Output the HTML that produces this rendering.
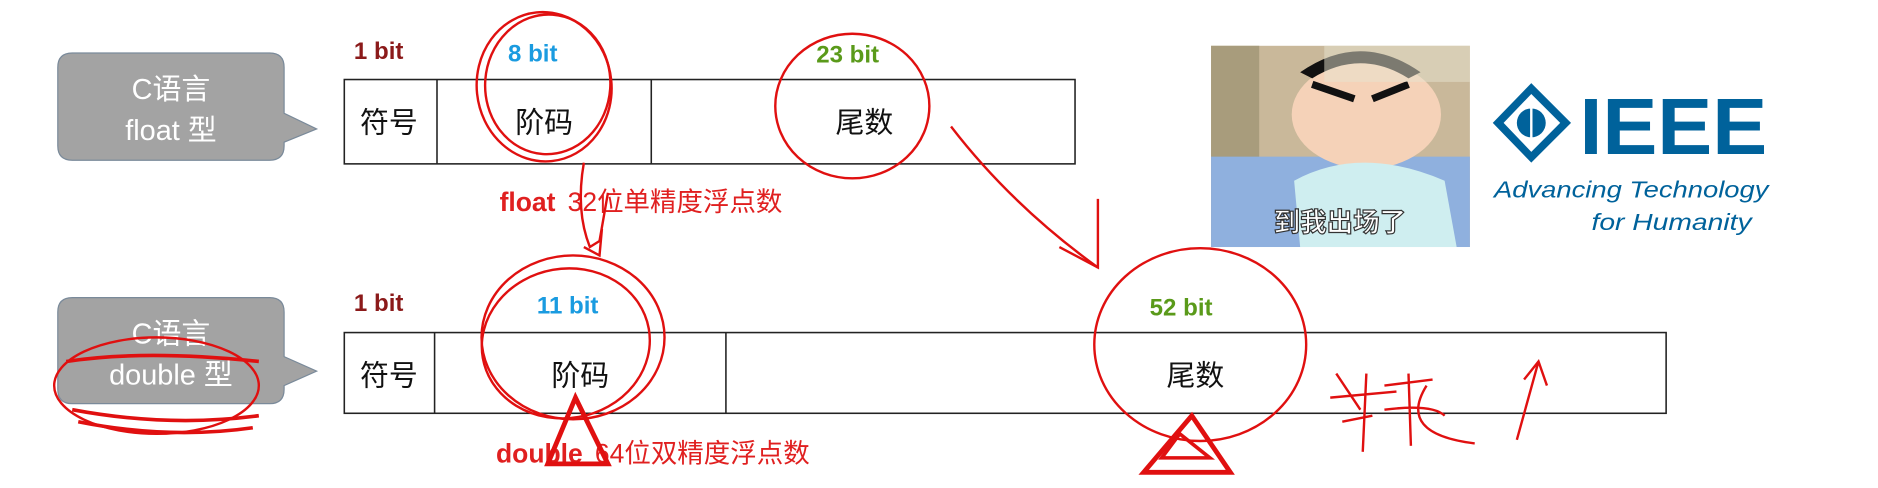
<!DOCTYPE html>
<html><head><meta charset="utf-8"><style>
html,body{margin:0;padding:0;background:#fff;width:1878px;height:488px;overflow:hidden}
svg{display:block}
text{font-family:"Liberation Sans","Noto Sans CJK SC",sans-serif}
</style></head><body>
<svg width="1878" height="488" viewBox="0 0 1560 405" preserveAspectRatio="none" xmlns="http://www.w3.org/2000/svg">
<rect width="1560" height="405" fill="#fff"/>
<!-- bubble 1 -->
<path d="M60 44 H224 Q236 44 236 56 V94 L263 107 L236 118 V121 Q236 133 224 133 H60 Q48 133 48 121 V56 Q48 44 60 44Z" fill="#a3a3a3" stroke="#7a8a9a" stroke-width="1"/>
<text x="142" y="82" font-size="24" fill="#fff" text-anchor="middle">C语言</text>
<text x="142" y="116" font-size="24" fill="#fff" text-anchor="middle">float 型</text>
<!-- bubble 2 -->
<path d="M60 247 H224 Q236 247 236 259 V296 L263 308 L236 320 V323 Q236 335 224 335 H60 Q48 335 48 323 V259 Q48 247 60 247Z" fill="#a3a3a3" stroke="#7a8a9a" stroke-width="1"/>
<text x="142" y="285" font-size="24" fill="#fff" text-anchor="middle">C语言</text>
<text x="142" y="319" font-size="24" fill="#fff" text-anchor="middle">double 型</text>
<!-- table 1 -->
<rect x="286" y="66" width="607" height="70" fill="#fff" stroke="#222" stroke-width="1.3"/>
<line x1="363" y1="66" x2="363" y2="136" stroke="#222" stroke-width="1.3"/>
<line x1="541" y1="66" x2="541" y2="136" stroke="#222" stroke-width="1.3"/>
<!-- table 2 -->
<rect x="286" y="276" width="1098" height="67" fill="#fff" stroke="#222" stroke-width="1.3"/>
<line x1="361" y1="276" x2="361" y2="343" stroke="#222" stroke-width="1.3"/>
<line x1="603" y1="276" x2="603" y2="343" stroke="#222" stroke-width="1.3"/>
<g font-size="24" fill="#111" text-anchor="middle">
<text x="323" y="110">符号</text><text x="452" y="110">阶码</text><text x="718" y="110">尾数</text>
<text x="323" y="320">符号</text><text x="482" y="320">阶码</text><text x="993" y="320">尾数</text>
</g>
<!-- bit labels -->
<g font-size="20" font-weight="bold">
<text x="294" y="49" fill="#8b1a1a">1 bit</text>
<text x="422" y="51" fill="#1a9be0">8 bit</text>
<text x="678" y="52" fill="#5a9a1a">23 bit</text>
<text x="294" y="258" fill="#8b1a1a">1 bit</text>
<text x="446" y="260" fill="#1a9be0">11 bit</text>
<text x="955" y="262" fill="#5a9a1a">52 bit</text>
</g>
<text x="415" y="175" font-size="22" fill="#e02020"><tspan font-weight="bold">float</tspan> <tspan dx="4">32位单精度浮点数</tspan></text>
<text x="412" y="384" font-size="22" fill="#e02020"><tspan font-weight="bold">double</tspan> <tspan dx="4">64位双精度浮点数</tspan></text>
<!-- picture -->
<rect x="1006" y="38" width="215" height="167" fill="#c9b89a"/>
<rect x="1006" y="38" width="40" height="167" fill="#a89c7c"/>
<rect x="1006" y="130" width="215" height="75" fill="#8fb0de"/>
<ellipse cx="1135" cy="95" rx="62" ry="45" fill="#f5d2b8"/>
<path d="M1080 60 Q1130 25 1180 60 L1170 65 Q1130 40 1090 65Z" fill="#111"/>
<path d="M1090 70 L1125 82 M1170 70 L1140 82" stroke="#111" stroke-width="6"/>
<path d="M1075 150 Q1130 120 1200 150 L1210 205 H1080Z" fill="#cfeef0"/>
<rect x="1100" y="38" width="121" height="30" fill="#e8e4d0" opacity="0.5"/>
<text x="1113" y="192" font-size="22" fill="#fff" stroke="#333" stroke-width="1" text-anchor="middle" font-weight="bold">到我出场了</text>
<!-- IEEE -->
<path d="M1272 69 L1305 102 L1272 135 L1240 102Z" fill="#00629b"/>
<path d="M1272 78 L1296 102 L1272 126 L1249 102Z" fill="#fff"/>
<circle cx="1272" cy="102" r="12" fill="#00629b"/>
<line x1="1272" y1="80" x2="1272" y2="124" stroke="#fff" stroke-width="2"/>
<text x="1312" y="128" font-size="66" font-weight="bold" fill="#00629b" textLength="156" lengthAdjust="spacingAndGlyphs">IEEE</text>
<text x="1241" y="164" font-size="19" font-style="italic" fill="#00629b" textLength="228" lengthAdjust="spacingAndGlyphs">Advancing Technology</text>
<text x="1322" y="191" font-size="19" font-style="italic" fill="#00629b" textLength="133" lengthAdjust="spacingAndGlyphs">for Humanity</text>
<!-- red annotations -->
<g fill="none" stroke="#e01010" stroke-width="2">
<ellipse cx="452" cy="72" rx="56" ry="62" transform="rotate(-6 452 72)"/>
<ellipse cx="455" cy="70" rx="52" ry="58" transform="rotate(4 455 70)"/>
<ellipse cx="708" cy="88" rx="64" ry="60"/>
<path d="M485 135 Q478 175 490 205 L498 200 L505 160"/>
<path d="M485 205 L498 212 L500 190"/>
<path d="M790 105 Q840 170 912 222"/>
<path d="M880 205 L912 222 L912 165"/>
<ellipse cx="476" cy="280" rx="76" ry="68"/>
<ellipse cx="470" cy="285" rx="70" ry="62" transform="rotate(-10 470 285)"/>
<ellipse cx="997" cy="286" rx="88" ry="80"/>
<ellipse cx="130" cy="320" rx="85" ry="40"/>
<path d="M55 300 Q120 290 215 300 M60 340 Q140 355 215 345 M65 350 Q140 365 210 355" stroke-width="3"/>
<path d="M478 330 L455 385 L505 385Z" stroke-width="4"/>
<path d="M990 345 L950 392 L1022 392Z" stroke-width="4"/>
<path d="M980 360 L965 380 L1005 380Z" stroke-width="3"/>
<path d="M1110 310 L1130 340 M1105 330 L1160 325 M1115 350 L1140 345 M1135 310 L1132 375" stroke-width="2"/>
<path d="M1150 320 L1190 315 M1170 310 L1172 370 M1150 340 Q1190 335 1200 345 M1185 320 Q1160 360 1225 368" stroke-width="2"/>
<path d="M1278 300 L1260 365 M1266 315 L1278 300 L1285 320" stroke-width="2"/>
</g>
</svg>
</body></html>
